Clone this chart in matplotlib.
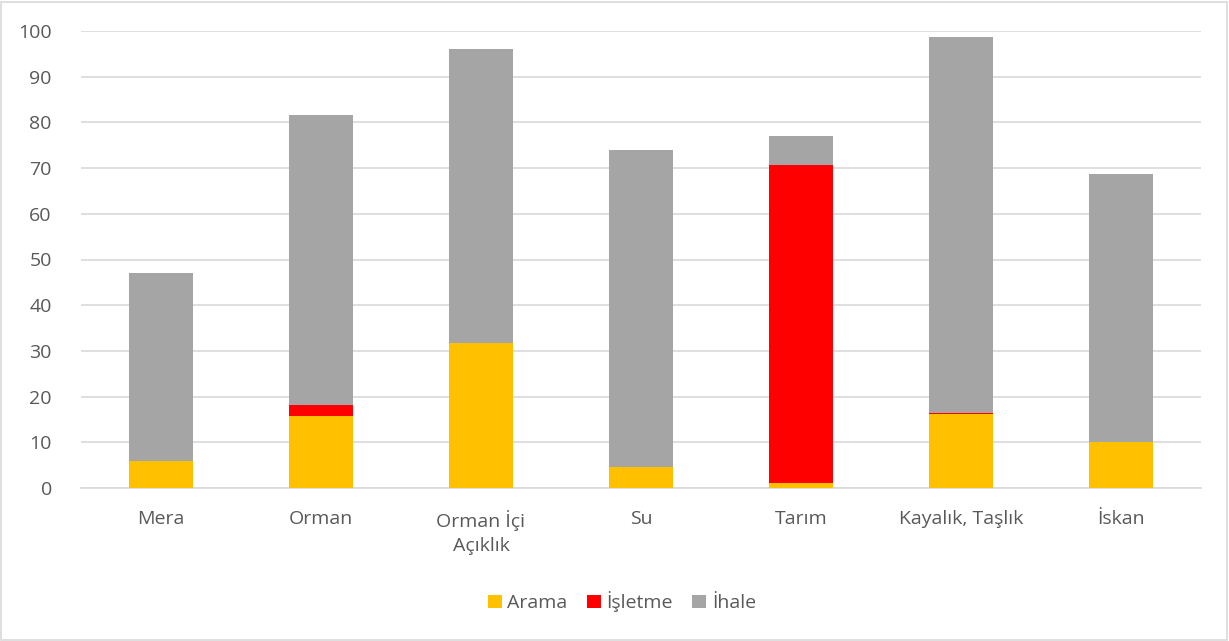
import matplotlib.pyplot as plt
import numpy as np
from matplotlib.patches import Rectangle

categories = ["Mera", "Orman", "Orman İçi\nAçıklık", "Su", "Tarım", "Kayalık, Taşlık", "İskan"]
arama = [5.8, 15.7, 31.7, 4.6, 1.2, 16.3, 10.1]
isletme = [0.0, 2.5, 0.0, 0.0, 69.4, 0.2, 0.0]
ihale = [41.3, 63.4, 64.4, 69.4, 6.5, 82.2, 58.6]
series_names = ["Arama", "İşletme", "İhale"]
colors = ["#FFC000", "#FF0000", "#A5A5A5"]
text_color = "#595959"

plt.rcParams['font.family'] = ['Open Sans', 'DejaVu Sans']

fig = plt.figure(figsize=(12.29, 6.41), dpi=100)
W, H = 1229, 641
ax = fig.add_axes([81 / W, 1 - 488 / H, 1120 / W, 457 / H])

x = np.arange(len(categories))
bottom = np.zeros(len(categories))
handles = []
for name, vals, col in zip(series_names, [arama, isletme, ihale], colors):
    b = ax.bar(x, vals, width=0.4, bottom=bottom, color=col, label=name, zorder=3)
    handles.append(b)
    bottom += np.array(vals)

ax.set_xlim(-0.5, len(categories) - 0.5)
ax.set_ylim(0, 100)
ax.set_yticks(range(0, 101, 10))
ax.yaxis.grid(True, color="#D9D9D9", linewidth=1.2, zorder=0)
ax.set_axisbelow(True)
for s in ["top", "right", "left"]:
    ax.spines[s].set_visible(False)
ax.spines["bottom"].set_color("#D9D9D9")
ax.spines["bottom"].set_linewidth(1.2)
ax.tick_params(axis="both", length=0, colors=text_color, labelsize=14)
ax.tick_params(axis="y", pad=21)
ax.tick_params(axis="x", pad=16)
ax.set_xticks(x)
ax.set_xticklabels(categories, linespacing=1.45)

fig.legend(handles=handles, labels=series_names, loc="center", bbox_to_anchor=(622 / W, 1 - 602 / H),
           ncol=3, frameon=False, fontsize=14, labelcolor=text_color,
           handlelength=0.7, handleheight=0.7, handletextpad=0.3, columnspacing=1.0)

fig.patches.append(Rectangle((1 / W, 1 / H), 1 - 3 / W, 1 - 3 / H, transform=fig.transFigure,
                             fill=False, edgecolor="#D9D9D9", linewidth=1.2))

fig.savefig("out.png", dpi=100)
